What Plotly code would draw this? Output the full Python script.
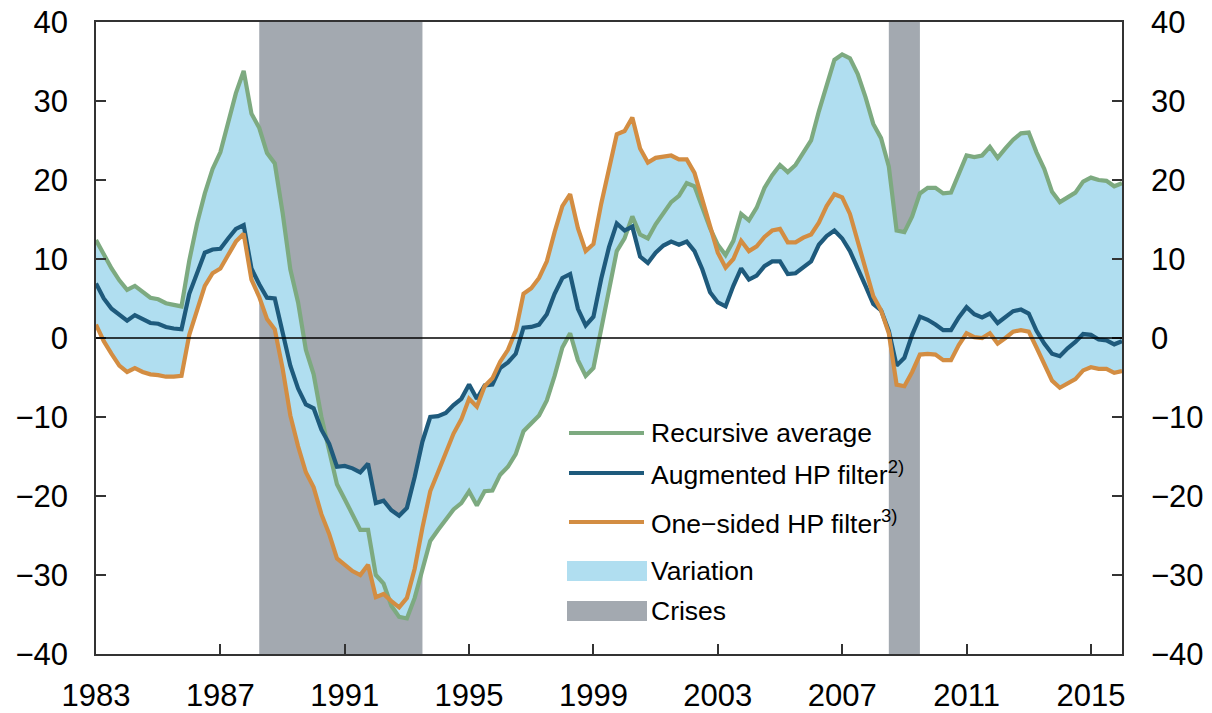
import numpy as np
import plotly.graph_objects as go

# Quarterly observations, 1983Q1 onwards (one row per year, four quarters each)
start_year = 1983
recursive_average = [
    12.4, 10.5, 8.8, 7.3,
    6.1, 6.6, 5.8, 5.1,
    4.9, 4.4, 4.2, 4.0,
    9.8, 14.5, 18.3, 21.4,
    23.5, 27.4, 31.0, 33.8,
    28.4, 26.6, 23.4, 22.1,
    15.9, 8.7, 4.5, -1.5,
    -4.6, -10.0, -14.2, -18.5,
    -20.4, -22.5, -24.3, -24.3,
    -30.0, -31.1, -33.9, -35.3,
    -35.5, -32.9, -29.2, -25.7,
    -24.3, -23.0, -21.7, -20.9,
    -19.4, -21.2, -19.4, -19.3,
    -17.3, -16.3, -14.7, -11.8,
    -10.8, -9.8, -7.9, -4.8,
    -1.2, 0.6, -2.8, -4.8,
    -3.8, 1.0, 6.0, 11.0,
    12.6, 15.4, 13.1, 12.6,
    14.4, 15.9, 17.2, 18.0,
    19.6, 19.2, 16.5, 13.9,
    11.8, 10.5, 12.3, 15.7,
    14.9, 16.5, 19.0, 20.6,
    21.9, 21.0, 21.9, 23.5,
    25.0, 28.7, 32.1, 35.2,
    35.9, 35.4, 33.4, 30.5,
    27.1, 25.3, 21.7, 13.6,
    13.4, 15.4, 18.3, 19.0,
    19.0, 18.3, 18.4, 20.9,
    23.1, 22.9, 23.1, 24.2,
    22.8, 24.0, 25.1, 25.9,
    26.0, 23.5, 21.4, 18.5,
    17.2, 17.8, 18.4, 19.8,
    20.3, 20.0, 19.9, 19.2,
    19.6,
]
augmented_hp = [
    6.9, 5.0, 3.7, 3.0,
    2.2, 2.9, 2.4, 1.9,
    1.8, 1.4, 1.2, 1.1,
    5.6, 8.2, 10.8, 11.2,
    11.3, 12.6, 13.8, 14.3,
    8.8, 6.8, 5.1, 5.0,
    0.9, -3.5, -6.4, -8.4,
    -8.9, -11.6, -13.4, -16.3,
    -16.2, -16.5, -17.0, -15.9,
    -20.9, -20.6, -21.8, -22.5,
    -21.5, -17.6, -13.1, -10.0,
    -9.9, -9.5, -8.5, -7.7,
    -5.9, -7.7, -6.0, -5.9,
    -3.8, -3.1, -2.0, 1.3,
    1.4, 1.7, 3.0, 5.6,
    7.6, 8.1, 3.7, 1.6,
    2.7, 7.5, 11.5, 14.5,
    13.6, 14.1, 10.3, 9.5,
    10.8, 11.7, 12.2, 11.8,
    12.2, 11.0, 8.7, 5.8,
    4.5, 4.0, 6.6, 8.8,
    7.4, 7.9, 9.1, 9.7,
    9.7, 8.1, 8.2, 9.0,
    9.7, 11.8, 12.9, 13.6,
    12.6, 11.0, 8.9, 6.6,
    4.3, 3.5, 0.9, -3.5,
    -2.5, 0.4, 2.7, 2.3,
    1.7, 1.0, 1.0, 2.6,
    3.9, 3.0, 2.6, 3.1,
    1.9, 2.7, 3.4, 3.6,
    3.1, 0.9, -0.7, -2.0,
    -2.3, -1.3, -0.5, 0.5,
    0.4, -0.2, -0.3, -0.8,
    -0.4,
]
one_sided_hp = [
    1.7, -0.4, -2.0, -3.5,
    -4.3, -3.8, -4.3, -4.6,
    -4.7, -4.9, -4.9, -4.8,
    0.4, 3.5, 6.6, 8.2,
    8.8, 10.5, 12.2, 13.2,
    7.4, 5.2, 2.4, 1.1,
    -3.8, -9.8, -13.7, -17.0,
    -18.9, -22.3, -24.8, -27.9,
    -28.7, -29.5, -30.0, -28.7,
    -32.8, -32.4, -33.3, -34.1,
    -32.9, -29.2, -24.0, -19.4,
    -17.0, -14.4, -12.1, -10.3,
    -7.7, -8.7, -6.1, -5.1,
    -3.0, -1.5, 0.9, 5.6,
    6.3, 7.6, 9.7, 13.4,
    16.7, 18.2, 13.9, 11.0,
    11.9, 17.0, 21.5, 25.8,
    26.2, 27.9, 24.0, 22.2,
    22.8, 22.9, 23.1, 22.6,
    22.6, 20.9, 17.5, 13.9,
    10.8, 8.9, 10.0, 12.3,
    11.0, 11.6, 12.8, 13.6,
    13.8, 12.1, 12.1, 12.7,
    13.1, 14.6, 16.7, 18.2,
    17.8, 15.7, 12.3, 8.7,
    5.3, 3.5, 0.6, -5.9,
    -6.1, -4.3, -2.1, -2.0,
    -2.1, -2.8, -2.8, -0.9,
    0.6, 0.1, 0.0, 0.6,
    -0.7, 0.0, 0.8, 1.0,
    0.8, -1.2, -3.3, -5.4,
    -6.3, -5.7, -5.2, -4.1,
    -3.7, -3.9, -3.9, -4.4,
    -4.2,
]
crisis_periods = [(1988.25, 1993.5), (2008.5, 2009.5)]
year_ticks = list(range(1983, 2016, 4))
value_ticks = list(range(-40, 41, 10))

GREEN = "#7DAA80"
BLUE = "#1E5A7C"
ORANGE = "#D38D42"
FILL = "#B0DEF0"
GREY = "#A3A9B0"
FONT = "Liberation Sans, Arial, Helvetica, sans-serif"

t = start_year + 0.25 * np.arange(len(recursive_average))
stack = np.vstack([recursive_average, augmented_hp, one_sided_hp])
upper = stack.max(axis=0)
lower = stack.min(axis=0)

fig = go.Figure()

# Variation band: envelope of the three estimates
fig.add_trace(go.Scatter(x=t, y=lower, mode="lines", line=dict(width=0, color=FILL),
                         hoverinfo="skip", showlegend=False))
fig.add_trace(go.Scatter(x=t, y=upper, mode="lines", line=dict(width=0, color=FILL),
                         fill="tonexty", fillcolor=FILL, hoverinfo="skip", showlegend=False))

for name, vals, col in [("Recursive average", recursive_average, GREEN),
                        ("Augmented HP filter", augmented_hp, BLUE),
                        ("One-sided HP filter", one_sided_hp, ORANGE)]:
    fig.add_trace(go.Scatter(x=t, y=vals, mode="lines", name=name,
                             line=dict(color=col, width=4.2), showlegend=False))

# anchor trace for the mirrored right-hand axis
fig.add_trace(go.Scatter(x=[t[0]], y=[None], yaxis="y2", showlegend=False, hoverinfo="skip"))

shapes = []
for a, b in crisis_periods:
    shapes.append(dict(type="rect", xref="x", yref="paper", x0=a, x1=b, y0=0, y1=1,
                       fillcolor=GREY, line=dict(width=0), layer="below"))
shapes.append(dict(type="line", xref="paper", yref="y", x0=0, x1=1, y0=0, y1=0,
                   line=dict(color="black", width=1.5), layer="above"))

# hand-built legend box (paper coordinates)
L, R, B, T = 96, 1122, 654, 22
def px(x):
    return (x - L) / (R - L)
def py(y):
    return (B - y) / (B - T)

legend_rows = [
    ("line", GREEN, 433, "Recursive average"),
    ("line", BLUE, 473, "Augmented HP filter<sup>2)</sup>"),
    ("line", ORANGE, 522, "One\u2212sided HP filter<sup>3)</sup>"),
    ("box", FILL, 571, "Variation"),
    ("box", GREY, 611, "Crises"),
]
annotations = []
for kind, col, yy, label in legend_rows:
    if kind == "line":
        shapes.append(dict(type="line", xref="paper", yref="paper",
                           x0=px(569), x1=px(644), y0=py(yy), y1=py(yy),
                           line=dict(color=col, width=4.2)))
    else:
        shapes.append(dict(type="rect", xref="paper", yref="paper",
                           x0=px(567), x1=px(647), y0=py(yy - 10), y1=py(yy + 10),
                           fillcolor=col, line=dict(width=0)))
    annotations.append(dict(xref="paper", yref="paper", x=px(649), y=py(yy),
                            xanchor="left", yanchor="middle", showarrow=False,
                            text=label, font=dict(size=26.5, color="black", family=FONT)))

axis_common = dict(ticks="inside", ticklen=10, tickwidth=1.5, tickcolor="#333",
                   showline=True, linecolor="#333", linewidth=1.5, showgrid=False,
                   zeroline=False, automargin=False,
                   tickfont=dict(size=31, color="black", family=FONT))

fig.update_layout(
    width=1212, height=713,
    margin=dict(l=96, r=90, t=22, b=59),
    paper_bgcolor="white", plot_bgcolor="white",
    xaxis=dict(range=[1983, 2016], tickvals=year_ticks, mirror=True,
               ticklabelstandoff=13, **axis_common),
    yaxis=dict(range=[-40, 40], tickvals=value_ticks, side="left",
               ticklabelstandoff=20, **axis_common),
    yaxis2=dict(range=[-40, 40], tickvals=value_ticks, side="right", overlaying="y",
                ticklabelstandoff=21, **axis_common),
    shapes=shapes,
    annotations=annotations,
    showlegend=False,
    font=dict(family=FONT),
)

fig.write_html("out.html")
